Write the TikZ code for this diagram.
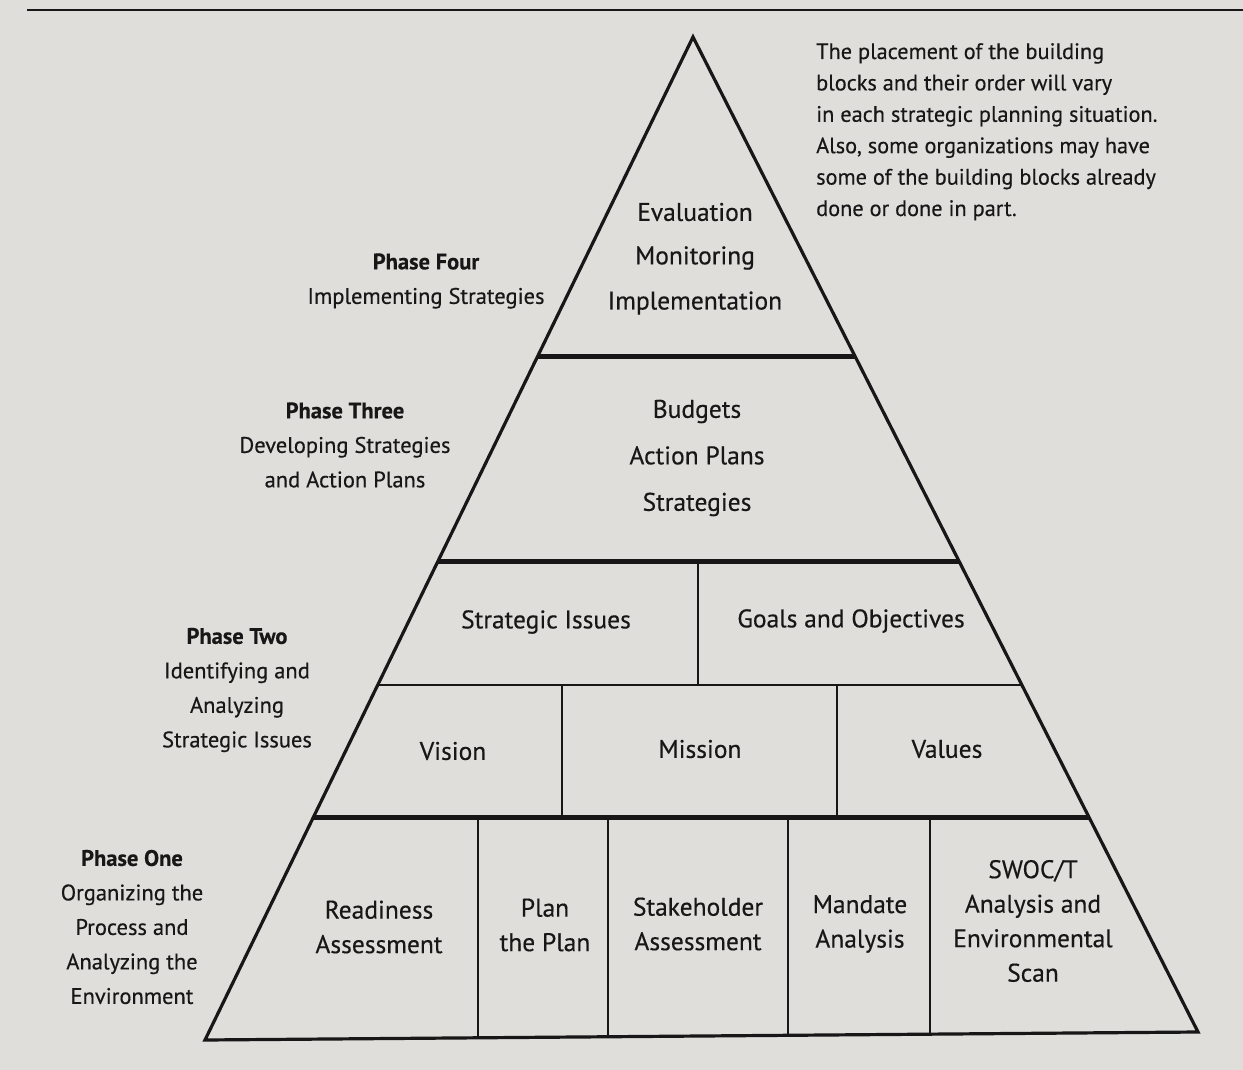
\documentclass[tikz,border=0pt]{standalone}
\usepackage{fontspec}
\setmainfont{PT Sans}[FakeBold=0.35]
\usetikzlibrary{calc}
\definecolor{paper}{RGB}{224,222,219}
\definecolor{ink}{RGB}{24,22,22}
\begin{document}
\begin{tikzpicture}[x=1pt,y=-1pt,
  edge/.style={draw=ink,line width=3.2pt,line join=miter},
  thickrule/.style={draw=ink,line width=5pt},
  thinrule/.style={draw=ink,line width=2pt},
  blocklbl/.style={text=ink,align=center,inner sep=0pt,font=\fontsize{25.5}{34.5}\selectfont},
  phaselbl/.style={text=ink,align=center,inner sep=0pt,font=\fontsize{22.5}{34.5}\selectfont},
  notelbl/.style={text=ink,align=left,anchor=north west,inner sep=0pt,font=\fontsize{22.3}{31.4}\selectfont}]
\fill[paper] (0,0) rectangle (1243,1070);
\useasboundingbox (0,0) rectangle (1243,1070);
% page rule at top
\draw[ink,line width=2pt] (27,10) -- (1243,10);
% pyramid corners
\coordinate (A) at (693,37);
\coordinate (B) at (205,1040);
\coordinate (C) at (1198,1032);
% edge points for the rules
\coordinate (L4) at ($(A)!{(357-37)/1003}!(B)$);
\coordinate (R4) at ($(A)!{(357-37)/995}!(C)$);
\coordinate (L3) at ($(A)!{(561-37)/1003}!(B)$);
\coordinate (R3) at ($(A)!{(561-37)/995}!(C)$);
\coordinate (L2) at ($(A)!{(685-37)/1003}!(B)$);
\coordinate (R2) at ($(A)!{(685-37)/995}!(C)$);
\coordinate (L1) at ($(A)!{(817-37)/1003}!(B)$);
\coordinate (R1) at ($(A)!{(817-37)/995}!(C)$);
% divisions
\draw[thickrule] (L4) -- (R4 |- L4);
\draw[thickrule] (L3) -- (R3 |- L3);
\draw[thinrule] (L2) -- (R2 |- L2);
\draw[thickrule] (L1) -- (R1 |- L1);
\draw[thinrule] (698,561) -- (698,685);
\draw[thinrule] (562,685) -- (562,817);
\draw[thinrule] (837,685) -- (837,817);
\draw[thinrule] (478,817) -- (478,1037);
\draw[thinrule] (608,817) -- (608,1036);
\draw[thinrule] (788,817) -- (788,1035);
\draw[thinrule] (930,817) -- (930,1034);
% outline
\draw[edge] (A) -- (B) -- (C) -- cycle;
% phase four
\node[blocklbl] (eval) at (695,212) {Evaluation};
\node[blocklbl] (moni) at (695,258) {Monitoring};
\node[blocklbl] (impl) at (695,303) {Implementation};
\node[phaselbl] (p4) at (426,281) {\textbf{Phase Four}\\Implementing Strategies};
% phase three
\node[blocklbl,font=\fontsize{25.5}{46.5}\selectfont] (p3b) at (697,458) {Budgets\\Action Plans\\Strategies};
\node[phaselbl] (p3) at (345,445) {\textbf{Phase Three}\\Developing Strategies\\and Action Plans};
% phase two
\node[blocklbl] (si) at (546,622) {Strategic Issues};
\node[blocklbl] (go) at (851,621) {Goals and Objectives};
\node[blocklbl] (vis) at (453,751) {Vision};
\node[blocklbl] (mis) at (700,749) {Mission};
\node[blocklbl] (val) at (947,749) {Values};
\node[phaselbl] (p2) at (237,690) {\textbf{Phase Two}\\Identifying and\\Analyzing\\Strategic Issues};
% phase one
\node[phaselbl] (p1) at (132,927) {\textbf{Phase One}\\Organizing the\\Process and\\Analyzing the\\Environment};
\node[blocklbl] (ra) at (379,927) {Readiness\\Assessment};
\node[blocklbl] (pp) at (545,925) {Plan\\the Plan};
\node[blocklbl] (sa) at (698,924) {Stakeholder\\Assessment};
\node[blocklbl] (ma) at (860,924) {Mandate\\Analysis};
\node[blocklbl] (sw) at (1033,921) {SWOC/T\\Analysis and\\Environmental\\Scan};
% note
\node[notelbl] (note) at (816,43) {The placement of the building\\blocks and their order will vary\\in each strategic planning situation.\\Also, some organizations may have\\some of the building blocks already\\done or done in part.};
\end{tikzpicture}
\end{document}
